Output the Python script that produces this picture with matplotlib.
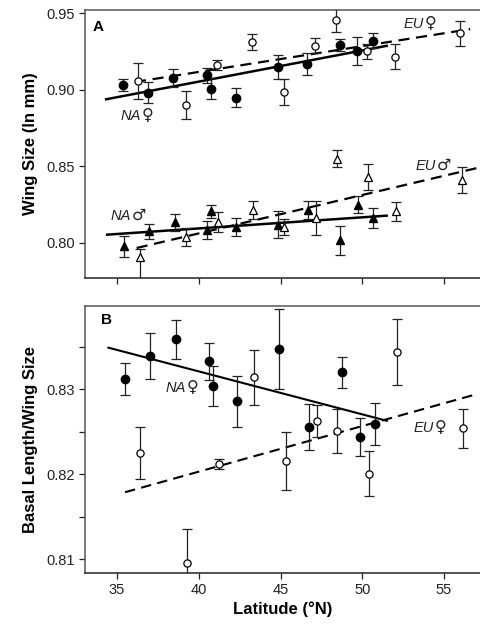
import matplotlib
matplotlib.use("Agg")
import matplotlib.pyplot as plt
import numpy as np

plt.rcParams['font.family'] = ['Liberation Sans', 'DejaVu Sans']

# ---------------- Panel A: wing size ----------------
# NA females (filled circles)
na_f_lat = [35.39, 36.9, 38.44, 40.52, 40.73, 42.28, 44.83, 46.64, 48.64, 49.7, 50.63]
na_f_val = [0.9028, 0.898, 0.9074, 0.9094, 0.9007, 0.8948, 0.9148, 0.9166, 0.929, 0.9253, 0.9319]
na_f_err = [0.004, 0.0067, 0.006, 0.005, 0.007, 0.006, 0.008, 0.007, 0.004, 0.009, 0.005]
# EU females (open circles)
eu_f_lat = [36.3, 39.2, 41.13, 43.27, 45.23, 47.1, 48.38, 50.3, 52.0, 55.98]
eu_f_val = [0.9057, 0.8898, 0.9161, 0.9312, 0.8985, 0.9286, 0.9456, 0.925, 0.9216, 0.9367]
eu_f_err = [0.012, 0.009, 0.0033, 0.005, 0.0087, 0.005, 0.008, 0.005, 0.008, 0.008]
# NA males (filled triangles)
na_m_lat = [35.43, 36.96, 38.55, 40.52, 40.73, 42.28, 44.83, 46.66, 48.64, 49.76, 50.68]
na_m_val = [0.7976, 0.8074, 0.8133, 0.8085, 0.8205, 0.8103, 0.8118, 0.8216, 0.8015, 0.8249, 0.8162]
na_m_err = [0.0066, 0.005, 0.0055, 0.006, 0.004, 0.006, 0.0087, 0.006, 0.0095, 0.0055, 0.0065]
# EU males (open triangles)
eu_m_lat = [36.41, 39.2, 41.2, 43.34, 45.24, 47.17, 48.43, 50.37, 52.06, 56.08]
eu_m_val = [0.7907, 0.8038, 0.8133, 0.8216, 0.8103, 0.8162, 0.8548, 0.8431, 0.8205, 0.8408]
eu_m_err_lo = [0.02, 0.006, 0.0065, 0.006, 0.005, 0.011, 0.0055, 0.0086, 0.006, 0.0085]
eu_m_err_hi = [0.0053, 0.006, 0.0065, 0.006, 0.005, 0.011, 0.0055, 0.0086, 0.006, 0.0085]

# regression line end points (lat, value)
na_f_line = ([34.33, 51.49], [0.8937, 0.9286])
eu_f_line = ([36.1, 56.6], [0.905, 0.9395])
na_m_line = ([34.4, 51.49], [0.8053, 0.8177])
eu_m_line = ([36.2, 57.1], [0.7966, 0.849])

# ---------------- Panel B: basal length / wing size ----------------
na_b_lat = [35.49, 37.02, 38.6, 40.63, 40.85, 42.32, 44.93, 46.74, 48.74, 49.86, 50.78]
na_b_val = [0.8312, 0.8339, 0.8359, 0.8333, 0.8304, 0.8286, 0.8347, 0.8256, 0.832, 0.8244, 0.8259]
na_b_err = [0.0019, 0.0027, 0.0023, 0.0022, 0.0024, 0.003, 0.0047, 0.0027, 0.0018, 0.0022, 0.0025]
eu_b_lat = [36.41, 39.3, 41.24, 43.4, 45.34, 47.21, 48.48, 50.44, 52.1, 56.14]
eu_b_val = [0.8225, 0.8096, 0.8212, 0.8314, 0.8216, 0.8263, 0.8251, 0.8201, 0.8344, 0.8254]
eu_b_err = [0.0031, 0.004, 0.0006, 0.0032, 0.0034, 0.0019, 0.0026, 0.0026, 0.0039, 0.0023]

na_b_line = ([34.47, 51.5], [0.8349, 0.8263])
eu_b_line = ([35.49, 56.75], [0.8179, 0.8293])

xticks = [35, 40, 45, 50, 55]
yticks_a = [0.80, 0.85, 0.90, 0.95]
yticks_b = [0.81, 0.82, 0.83]
yminor_b = [0.815, 0.825, 0.835]

fig = plt.figure(figsize=(4.8, 6.26), dpi=100)
axA = fig.add_axes([85/480, 1-278/626, 1-85/480, (278-10)/626])
axB = fig.add_axes([85/480, 1-573/626, 1-85/480, (573-306)/626])

ebkw = dict(capsize=3.6, elinewidth=0.9, capthick=0.9, ecolor='#222222', linestyle='none', zorder=3)

def style(ax):
    ax.spines['right'].set_visible(False)
    ax.spines['top'].set_color('#555555')
    ax.spines['left'].set_color('#555555')
    ax.spines['bottom'].set_color('#222222')
    for s in ['top', 'left', 'bottom']:
        ax.spines[s].set_linewidth(1.1)
    ax.tick_params(direction='out', length=4, width=0.9, labelsize=10.5, colors='#222222')
    ax.set_xlim(33.04, 57.2)
    ax.set_xticks(xticks)

def label(ax, x, y, group, sym):
    ax.annotate(group, (x, y), xytext=(3.6, 0), textcoords='offset points',
                fontsize=10.5, style='italic', ha='right', va='center', color='#222222')
    ax.annotate(sym, (x, y), xytext=(4.2, 0.5), textcoords='offset points',
                fontsize=11.5, ha='left', va='center', family='DejaVu Sans', color='#222222')

# Panel A
style(axA)
axA.set_ylim(0.777, 0.952)
axA.set_yticks(yticks_a)
axA.set_yticklabels([f"{v:.2f}" for v in yticks_a])
axA.set_xticklabels([])
axA.errorbar(na_f_lat, na_f_val, yerr=na_f_err, fmt='o', ms=6, mfc='black', mec='black', **ebkw)
axA.errorbar(eu_f_lat, eu_f_val, yerr=eu_f_err, fmt='o', ms=5.2, mfc='white', mec='black', mew=0.9, **ebkw)
axA.errorbar(na_m_lat, na_m_val, yerr=na_m_err, fmt='^', ms=6, mfc='black', mec='black', **ebkw)
axA.errorbar(eu_m_lat, eu_m_val, yerr=[eu_m_err_lo, eu_m_err_hi], fmt='^', ms=5.8, mfc='white', mec='black', mew=0.9, **ebkw)
axA.plot(*na_f_line, color='black', lw=1.8, zorder=2)
axA.plot(*eu_f_line, color='black', lw=1.6, ls=(0, (5, 3)), zorder=2)
axA.plot(*na_m_line, color='black', lw=1.8, zorder=2)
axA.plot(*eu_m_line, color='black', lw=1.6, ls=(0, (5, 3)), zorder=2)
axA.text(33.5, 0.9408, "A", fontsize=11, fontweight='bold', ha='left', va='center')
label(axA, 36.16, 0.8825, "NA", "\u2640")
label(axA, 53.47, 0.9428, "EU", "\u2640")
label(axA, 35.55, 0.8177, "NA", "\u2642")
label(axA, 54.2, 0.8500, "EU", "\u2642")
axA.set_ylabel("Wing Size (ln mm)", fontsize=12, fontweight='bold', labelpad=6)

# Panel B
style(axB)
axB.set_ylim(0.8084, 0.8398)
axB.set_yticks(yticks_b)
axB.set_yticklabels([f"{v:.2f}" for v in yticks_b])
axB.set_yticks(yminor_b, minor=True)
axB.tick_params(axis='y', which='minor', direction='out', length=4, width=0.9, colors='#222222')
axB.errorbar(na_b_lat, na_b_val, yerr=na_b_err, fmt='o', ms=6, mfc='black', mec='black', **ebkw)
axB.errorbar(eu_b_lat, eu_b_val, yerr=eu_b_err, fmt='o', ms=5.2, mfc='white', mec='black', mew=0.9, **ebkw)
axB.plot(*na_b_line, color='black', lw=1.5, zorder=2)
axB.plot(*eu_b_line, color='black', lw=1.5, ls=(0, (5, 3)), zorder=2)
axB.text(34.0, 0.8381, "B", fontsize=11, fontweight='bold', ha='left', va='center')
label(axB, 38.9, 0.8301, "NA", "\u2640")
label(axB, 54.08, 0.8254, "EU", "\u2640")
axB.set_ylabel("Basal Length/Wing Size", fontsize=12, fontweight='bold', labelpad=6)
axB.set_xlabel("Latitude (\u00b0N)", fontsize=12, fontweight='bold', labelpad=3)

fig.savefig("out.png", dpi=100)
